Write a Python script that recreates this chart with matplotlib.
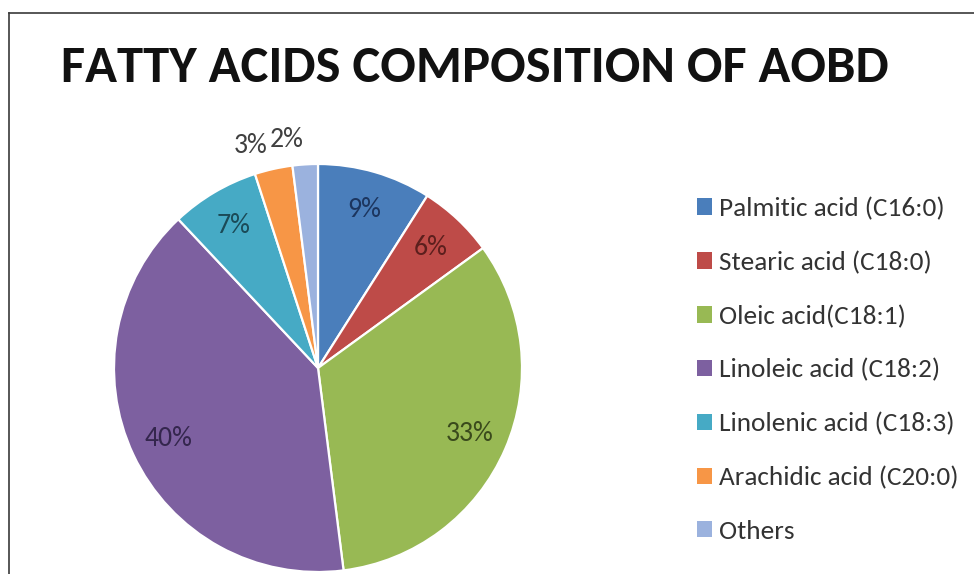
import matplotlib
matplotlib.use("Agg")
import matplotlib.pyplot as plt
from matplotlib import font_manager as fm
from matplotlib.lines import Line2D
import numpy as np

# fatty acid shares (%)
acids = ["Palmitic acid (C16:0)", "Stearic acid (C18:0)", "Oleic acid(C18:1)",
         "Linoleic acid (C18:2)", "Linolenic acid (C18:3)", "Arachidic acid (C20:0)",
         "Others"]
shares = [9, 6, 33, 40, 7, 3, 2]
colors = ["#4a7ebb", "#be4b48", "#98b954", "#7d60a0", "#46aac5", "#f79646", "#9bb2de"]
label_colors = ["#1c355e", "#5c1f1d", "#3a4a1c", "#34264d", "#1b4a57", "#404040", "#404040"]

names = {f.name for f in fm.fontManager.ttflist}
body_font = "Carlito" if "Carlito" in names else "Lato"

W, H = 974, 574
fig = plt.figure(figsize=(W / 100, H / 100), dpi=100)
fig.patch.set_facecolor("white")

# frame lines at top and left
fig.add_artist(Line2D([9 / W, 1], [1 - 13 / H, 1 - 13 / H], color="#3a3a3a", lw=1.2))
fig.add_artist(Line2D([9 / W, 9 / W], [0, 1 - 13 / H], color="#3a3a3a", lw=1.2))

fig.text(475 / W, 1 - 67 / H, "FATTY ACIDS COMPOSITION OF AOBD", ha="center", va="center",
         fontsize=37.9, fontweight="bold", family=body_font, color="#111111")

# pie centred at (318, 368) px with radius 204 px
R = 204
ax = fig.add_axes([(318 - R) / W, (H - 368 - R) / H, 2 * R / W, 2 * R / H])
wedges, texts, autotexts = ax.pie(
    shares, colors=colors, startangle=90, counterclock=False,
    autopct=lambda p: f"{p:.0f}%", pctdistance=0.81,
    wedgeprops=dict(edgecolor="white", linewidth=1.6),
    textprops=dict(family=body_font, fontsize=20))
ax.set_xlim(-1, 1)
ax.set_ylim(-1, 1)
ax.set_aspect("equal")
ax.axis("off")

for i, (w, t) in enumerate(zip(wedges, autotexts)):
    t.set_color(label_colors[i])
    if shares[i] < 5:
        # small slices get their label outside the rim
        ang = np.deg2rad((w.theta1 + w.theta2) / 2)
        t.set_position((1.14 * np.cos(ang), 1.12 * np.sin(ang)))
        t.set_ha("right")

leg = fig.legend(wedges, acids, loc="upper left", bbox_to_anchor=(697 / W, 1 - 197 / H),
                 frameon=False, handlelength=0.55, handleheight=0.55, handletextpad=0.27,
                 labelspacing=1.12, borderaxespad=0, borderpad=0,
                 prop=dict(family=body_font, size=19.6))
for txt in leg.get_texts():
    txt.set_color("#333333")
for h in leg.legend_handles:
    h.set_edgecolor("none")

fig.savefig("out.png", dpi=100)
